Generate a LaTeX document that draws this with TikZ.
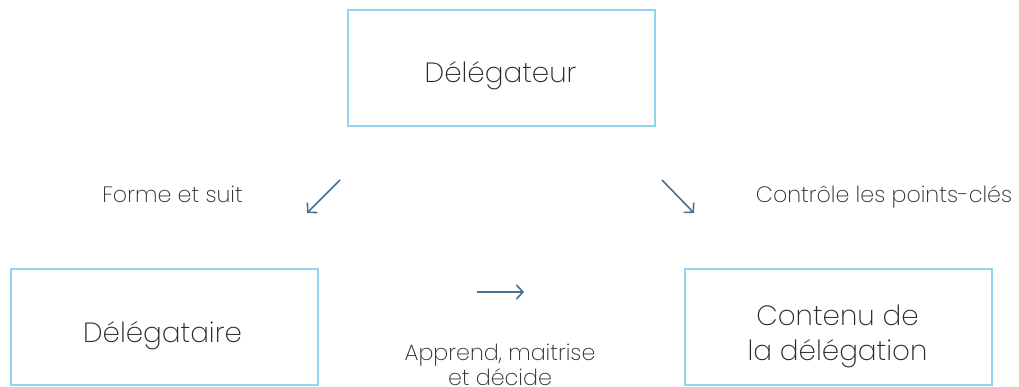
\documentclass[tikz,border=0pt]{standalone}
\usepackage{fontspec}
\setmainfont{Poppins ExtraLight}
\usetikzlibrary{arrows.meta}
\definecolor{boxblue}{HTML}{8FD6EE}
\definecolor{arrowblue}{HTML}{4A6F91}
\definecolor{txt}{HTML}{2A2A2A}
\begin{document}
\begin{tikzpicture}[x=1pt,y=-1pt,
  box/.style={draw=boxblue,line width=2pt,minimum width=307pt,minimum height=116pt,inner sep=0pt},
  btxt/.style={anchor=base,text=txt,inner sep=0pt,font=\fontsize{27.8}{35}\selectfont},
  lbl/.style={anchor=base,text=txt,inner sep=0pt,font=\fontsize{22.2}{27}\selectfont},
  arr/.style={draw=arrowblue,line width=1.6pt,-{Straight Barb[length=6.5pt,width=14pt]}}]
\useasboundingbox (0,0) rectangle (1019,387);
\node[box] (top) at (501,68) {};
\node[box] (left) at (164,326.5) {};
\node[box] (right) at (838,326.5) {};
\node[btxt] (ttop) at (500.5,83) {Délégateur};
\node[btxt] (tleft) at (162.5,342) {Délégataire};
\node[btxt] (tright1) at (837.5,325) {Contenu de};
\node[btxt] (tright2) at (837.5,360) {la délégation};
\node[lbl] (l1) at (172.5,203) {Forme et suit};
\node[lbl] (l2) at (884,203) {Contrôle les points-clés};
\node[lbl] (l3a) at (500,360) {Apprend, maitrise};
\node[lbl] (l3b) at (500,385.5) {et décide};
\coordinate (a1s) at (340,180);
\coordinate (a1e) at (307,213);
\coordinate (a2s) at (662,180);
\coordinate (a2e) at (694,213);
\coordinate (a3s) at (477,292);
\coordinate (a3e) at (524,292);
\draw[arr] (a1s) -- (a1e);
\draw[arr] (a2s) -- (a2e);
\draw[arr] (a3s) -- (a3e);
\end{tikzpicture}
\end{document}
